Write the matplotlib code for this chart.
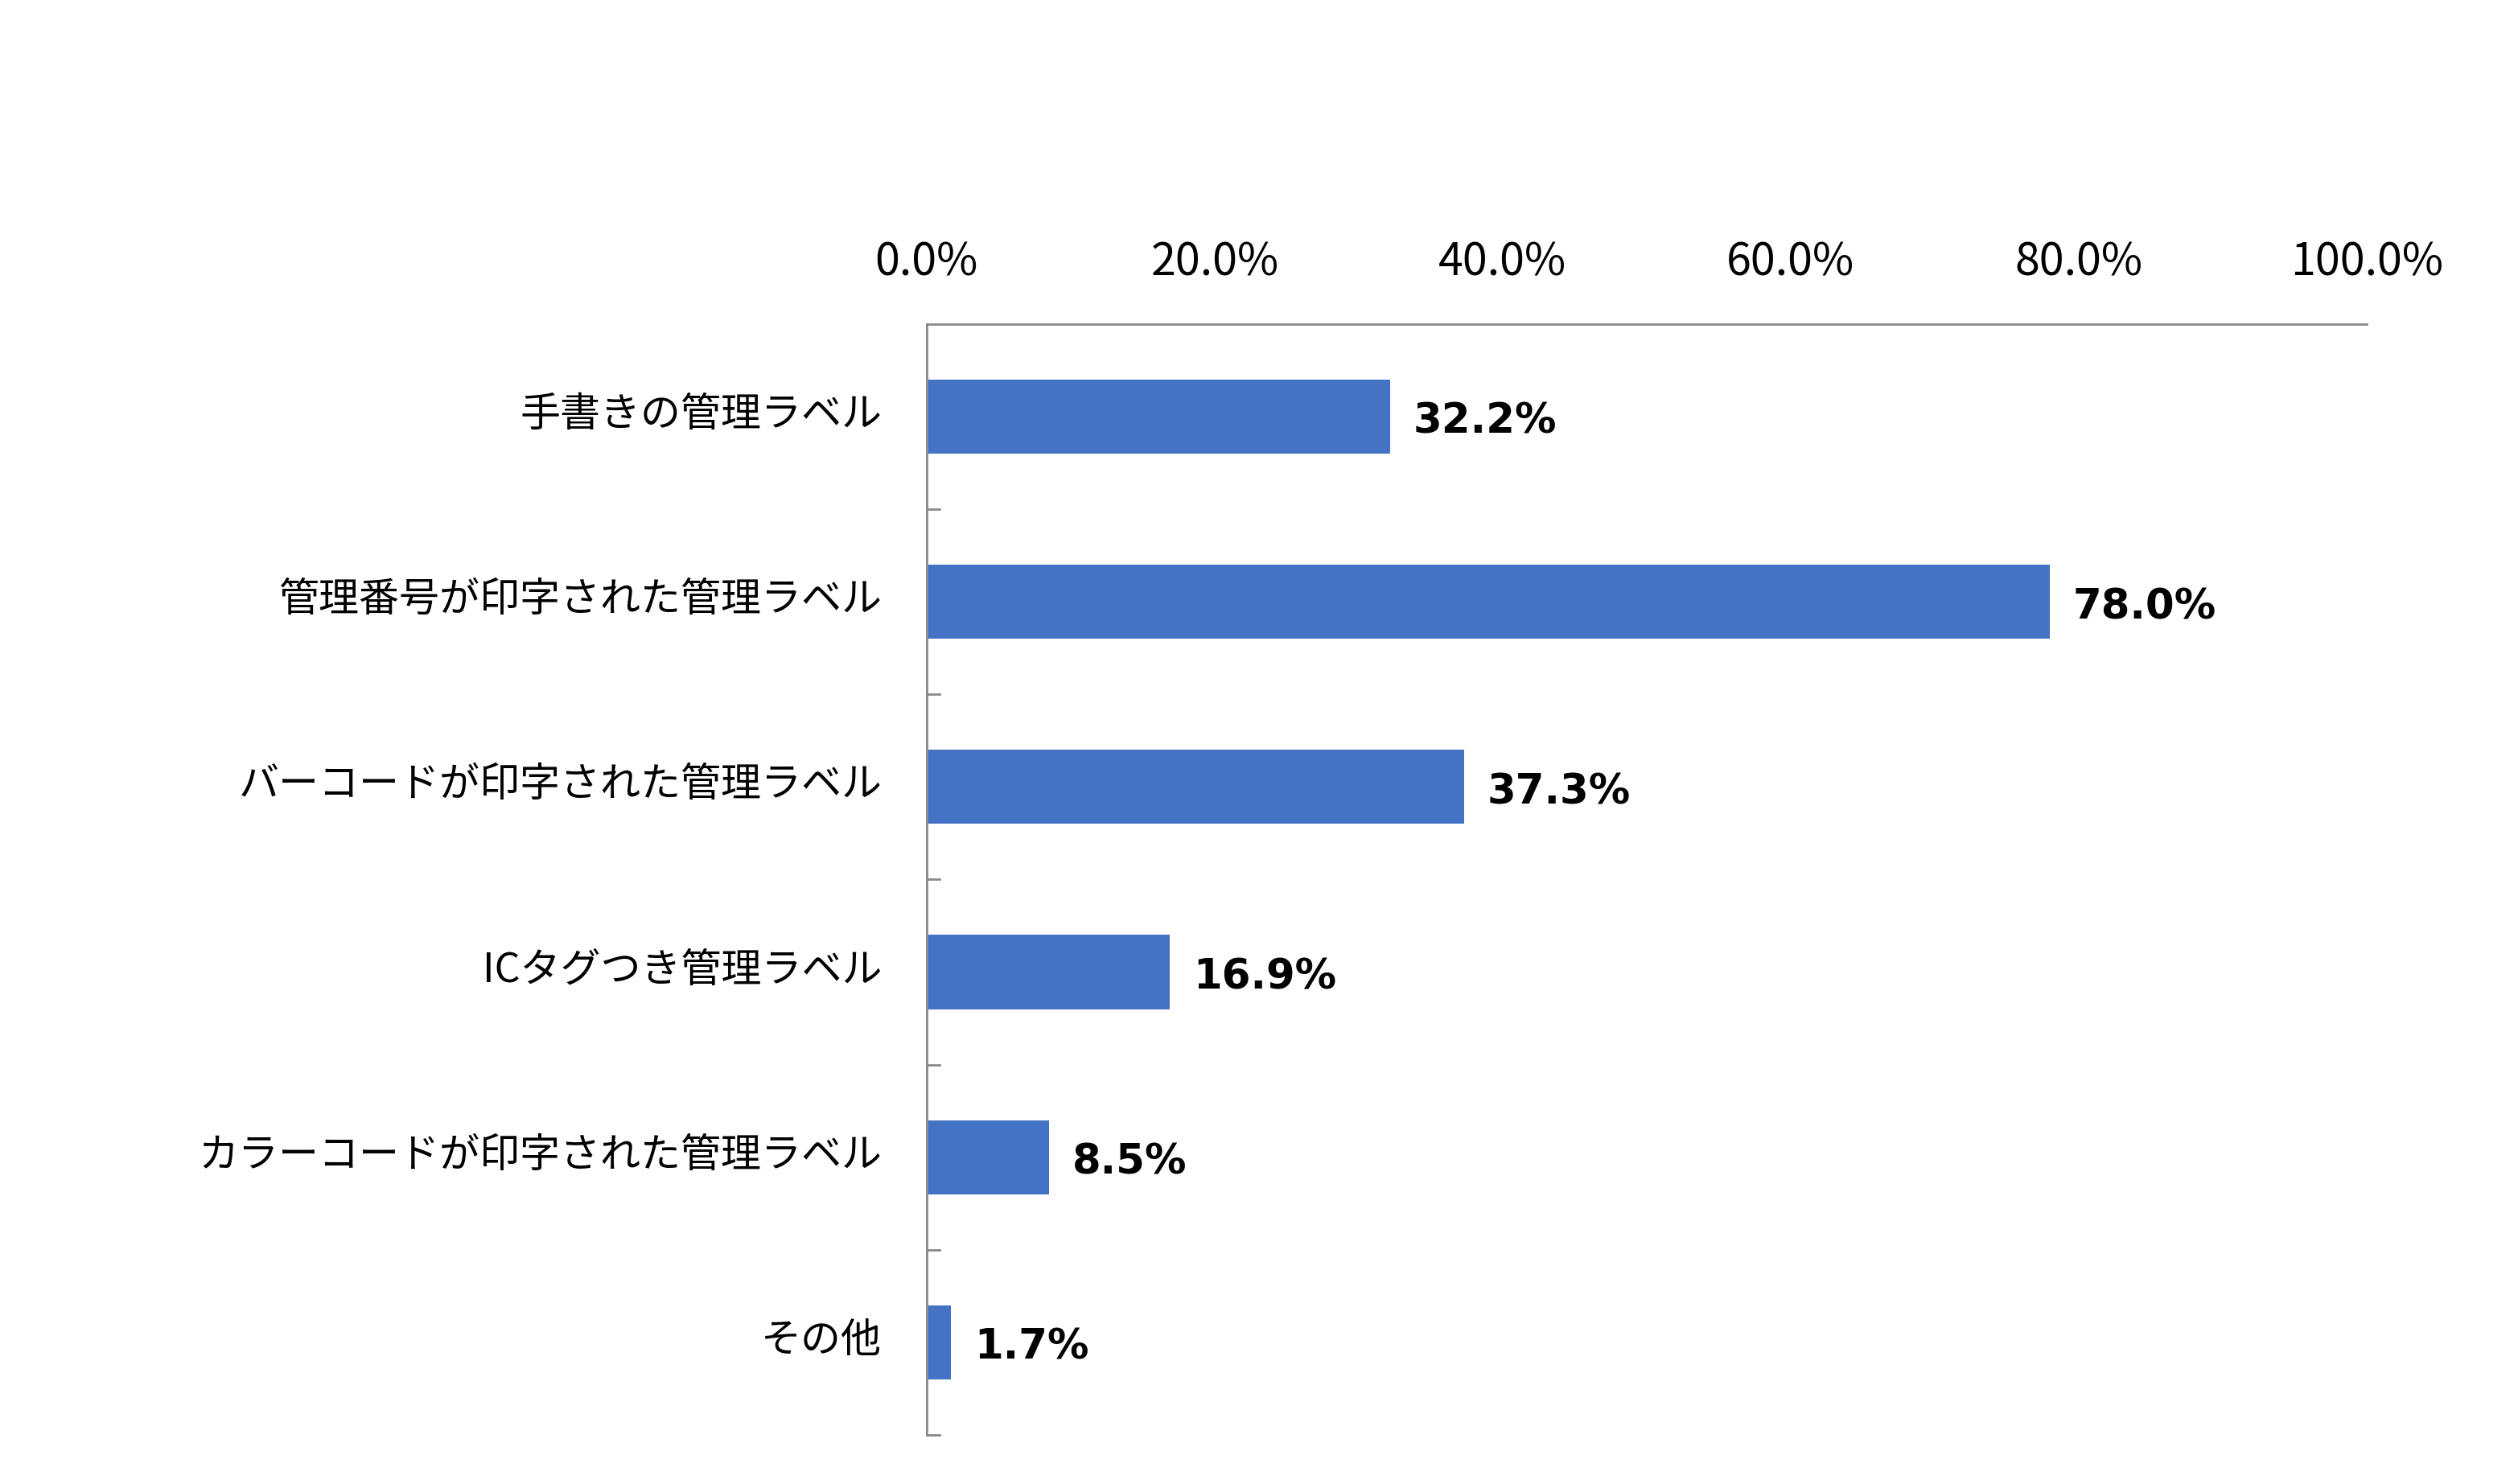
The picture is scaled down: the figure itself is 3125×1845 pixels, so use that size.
import numpy as np
import matplotlib.pyplot as plt
import matplotlib.transforms as mtransforms
from matplotlib.ticker import FixedLocator

plt.rcParams['font.family'] = ['Noto Sans CJK JP', 'DejaVu Sans']

# Data
categories = ['手書きの管理ラベル', '管理番号が印字された管理ラベル', 'バーコードが印字された管理ラベル',
              'ICタグつき管理ラベル', 'カラーコードが印字された管理ラベル', 'その他']
values = [32.2, 78.0, 37.3, 16.9, 8.5, 1.7]
x_ticks = [0, 20, 40, 60, 80, 100]
x_tick_labels = ['0.0%', '20.0%', '40.0%', '60.0%', '80.0%', '100.0%']

fig = plt.figure(figsize=(31.25, 18.45), dpi=100)
ax = fig.add_axes([0.3686, 0.0331, 0.5728, 0.7485])

y = np.arange(len(categories))
ax.barh(y, values, height=0.4, color='#4472C4')

# value labels
for yi, v in zip(y, values):
    ax.text(v + 1.6, yi + 0.03, f'{v:.1f}%', va='center', ha='left', fontsize=37,
            fontweight='bold', family='DejaVu Sans', color='black')

ax.set_xlim(0, 100)
ax.set_ylim(len(categories) - 0.5, -0.5)

ax.xaxis.tick_top()
ax.set_xticks(x_ticks)
ax.set_xticklabels(x_tick_labels, fontsize=40)
ax.tick_params(axis='x', length=0, pad=34)

ax.set_yticks(y)
ax.set_yticklabels(categories, fontsize=36)
ax.tick_params(axis='y', which='major', length=0, pad=40)
# nudge category labels up a little
shift = mtransforms.ScaledTranslation(0, 8 / 100, fig.dpi_scale_trans)
for lbl in ax.get_yticklabels():
    lbl.set_transform(lbl.get_transform() + shift)

# Excel style ticks point to the right from the left axis
for b in np.arange(0.5, len(categories), 1.0):
    ax.plot([0, 0.9], [b, b], color='#898989', lw=2, clip_on=False)

for side in ['right', 'bottom']:
    ax.spines[side].set_visible(False)
for side in ['left', 'top']:
    ax.spines[side].set_color('#898989')
    ax.spines[side].set_linewidth(2)

plt.savefig('out.png', dpi=100)
